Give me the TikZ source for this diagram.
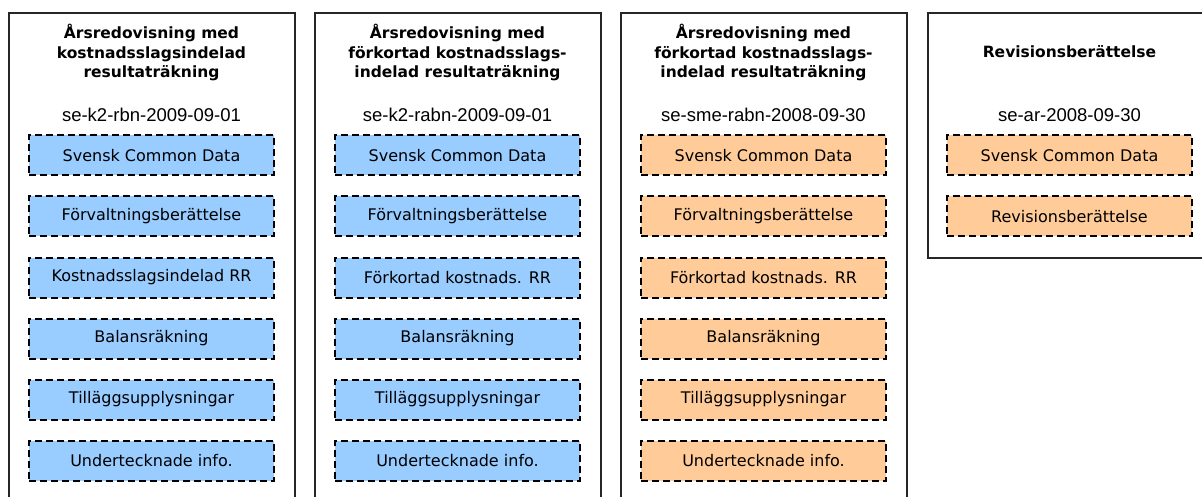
\documentclass[tikz,border=0pt]{standalone}
\usepackage{fontspec}
\setmainfont{Liberation Sans}
\newfontfamily\verd{DejaVu Sans}
\definecolor{k2blue}{HTML}{99CCFF}
\definecolor{smeorange}{HTML}{FFCC99}
\begin{document}
\begin{tikzpicture}[x=1pt,y=-1pt,
  panel/.style={draw=black!85,line width=2pt,minimum width=286pt,anchor=north west},
  title/.style={font=\verd\bfseries\fontsize{15.5}{19.5}\selectfont,align=center},
  code/.style={font=\fontsize{18.5}{20}\selectfont},
  part/.style={draw,line width=2pt,dash pattern=on 7pt off 4pt,minimum width=245pt,minimum height=40pt,font=\verd\fontsize{16}{18}\selectfont},
  k2/.style={part,fill=k2blue},
  sme/.style={part,fill=smeorange}]
\clip (0,0) rectangle (1202,497);
\useasboundingbox (0,0) rectangle (1202,497);
\node[panel,minimum height=520pt] (rbn) at (8,12) {};
\node[panel,minimum height=520pt] (rabn) at (314,12) {};
\node[panel,minimum height=520pt] (sme) at (620,12) {};
\node[panel,minimum height=245pt,minimum width=290pt] (ar) at (926.5,12) {};
% se-k2-rbn
\node[title] (t1) at (151.5,52.5) {Årsredovisning med\\kostnadsslagsindelad\\resultaträkning};
\node[code] (c1) at (151.5,115) {se-k2-rbn-2009-09-01};
\node[k2] (a1) at (151.5,155.5) {Svensk Common Data};
\node[k2] (a2) at (151.5,216.5) {Förvaltningsberättelse};
\node[k2] (a3) at (151.5,277.5) {Kostnadsslagsindelad RR};
\node[k2] (a4) at (151.5,338.5) {Balansräkning};
\node[k2] (a5) at (151.5,399.5) {Tilläggsupplysningar};
\node[k2] (a6) at (151.5,461) {Undertecknade info.};
% se-k2-rabn
\node[title] (t2) at (457.5,52.5) {Årsredovisning med\\förkortad kostnadsslags-\\indelad resultaträkning};
\node[code] (c2) at (457.5,115) {se-k2-rabn-2009-09-01};
\node[k2] (b1) at (457.5,155.5) {Svensk Common Data};
\node[k2] (b2) at (457.5,216.5) {Förvaltningsberättelse};
\node[k2] (b3) at (457.5,277.5) {Förkortad kostnads. RR};
\node[k2] (b4) at (457.5,338.5) {Balansräkning};
\node[k2] (b5) at (457.5,399.5) {Tilläggsupplysningar};
\node[k2] (b6) at (457.5,461) {Undertecknade info.};
% se-sme-rabn
\node[title] (t3) at (763.5,52.5) {Årsredovisning med\\förkortad kostnadsslags-\\indelad resultaträkning};
\node[code] (c3) at (763.5,115) {se-sme-rabn-2008-09-30};
\node[sme] (s1) at (763.5,155.5) {Svensk Common Data};
\node[sme] (s2) at (763.5,216.5) {Förvaltningsberättelse};
\node[sme] (s3) at (763.5,277.5) {Förkortad kostnads. RR};
\node[sme] (s4) at (763.5,338.5) {Balansräkning};
\node[sme] (s5) at (763.5,399.5) {Tilläggsupplysningar};
\node[sme] (s6) at (763.5,461) {Undertecknade info.};
% se-ar
\node[title] (t4) at (1069.5,52) {Revisionsberättelse};
\node[code] (c4) at (1069.5,115) {se-ar-2008-09-30};
\node[sme] (r1) at (1069.5,155.5) {Svensk Common Data};
\node[sme] (r2) at (1069.5,216.5) {Revisionsberättelse};
\end{tikzpicture}
\end{document}
